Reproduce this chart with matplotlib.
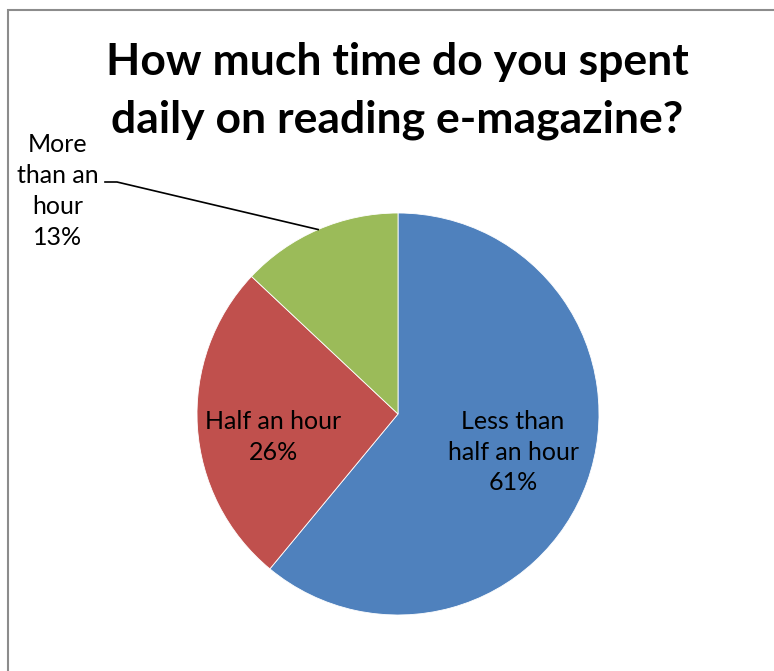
import matplotlib
matplotlib.use('Agg')
import matplotlib.pyplot as plt
from matplotlib.patches import Rectangle
import numpy as np

labels = ['Less than\nhalf an hour', 'Half an hour', 'More\nthan an\nhour']
shares = [61, 26, 13]
colors = ['#4F81BD', '#C0504D', '#9BBB59']
title = 'How much time do you spent\ndaily on reading e-magazine?'

plt.rcParams['font.family'] = ['Lato', 'DejaVu Sans']

W, H = 774, 671
fig = plt.figure(figsize=(W / 100, H / 100), dpi=100)

# axes spans whole figure, 1 data unit = pie radius (201 px)
cx, cy, R = 398, 414, 201
ax = fig.add_axes([0, 0, 1, 1])

wedges, _ = ax.pie(shares, colors=colors, startangle=90, counterclock=False,
                   radius=1, center=(0, 0),
                   wedgeprops=dict(edgecolor='white', linewidth=0.6))
ax.set_aspect('auto')
ax.set_xlim(-cx / R, (W - cx) / R)
ax.set_ylim(-(H - cy) / R, cy / R)
ax.axis('off')

# grey chart frame (only left & top edges visible)
fig.patches.append(Rectangle((8 / W, -0.1), 1.2, (H - 10) / H + 0.1,
                             transform=fig.transFigure, fill=False,
                             edgecolor='#8C8C8C', lw=1.5))

txt = [f'{l}\n{v}%' for l, v in zip(labels, shares)]
fs = 18
ls = 1.42
ax.text(115 / R, -38 / R, txt[0], ha='center', va='center', fontsize=fs,
        linespacing=ls)
ax.text(-125 / R, -23 / R, txt[1], ha='center', va='center', fontsize=fs,
        linespacing=ls)

# outside label for the small slice with a leader line
w = wedges[2]
mid = np.deg2rad((w.theta1 + w.theta2) / 2)
ex, ey = np.cos(mid), np.sin(mid)
ax.plot([ex, -281 / R, -293 / R], [ey, (cy - 182) / R, (cy - 182) / R],
        color='black', lw=1.2)
ax.text(-340 / R, (cy - 191) / R, txt[2], ha='center', va='center',
        fontsize=fs, linespacing=ls)

fig.text(397 / W, 1 - 91 / H, title, ha='center', va='center',
         fontsize=32, fontweight='bold', linespacing=1.5)

fig.savefig('out.png', dpi=100)
